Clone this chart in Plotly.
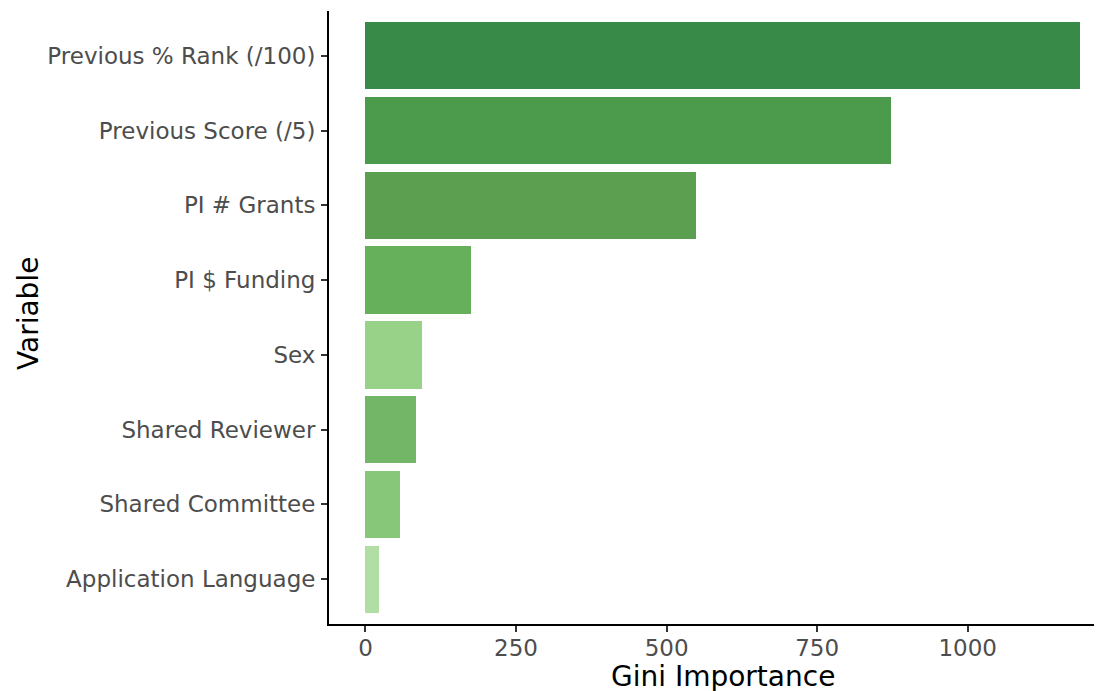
import plotly.graph_objects as go

variables = ["Previous % Rank (/100)", "Previous Score (/5)", "PI # Grants", "PI $ Funding",
             "Sex", "Shared Reviewer", "Shared Committee", "Application Language"]
importance = [1186, 873, 549, 176, 94, 83.5, 57.6, 23.2]
bar_colors = ["#378A48", "#4C9A4C", "#5C9F50", "#66AF5B", "#98D289", "#74B668", "#86C77A", "#B0DEA5"]
x_ticks = [0, 250, 500, 750, 1000]

OFF = 8  # page body margin
W, H = 1102 - OFF, 691 - OFF
ML, MR, MT = 329 - OFF, 0, 11 - OFF
PLOT_BOTTOM = 624 - OFF
MB = H - PLOT_BOTTOM

fig = go.Figure(go.Bar(
    x=importance, y=variables, orientation="h",
    marker=dict(color=bar_colors, line=dict(width=0)),
    width=0.9,
))

fig.update_layout(
    width=W, height=H,
    margin=dict(l=ML, r=MR, t=MT, b=MB),
    plot_bgcolor="white", paper_bgcolor="white",
    font=dict(family="DejaVu Sans", color="#4D4D4D", size=23),
    showlegend=False,
    bargap=0,
)
fig.update_xaxes(
    range=[-60.6, 1223], tickvals=x_ticks, ticktext=[str(v) for v in x_ticks],
    showgrid=False, zeroline=False, showline=True, linecolor="black", linewidth=2,
    ticks="outside", ticklen=6, tickwidth=2, tickcolor="#333333",
    tickfont=dict(size=23, color="#4D4D4D"), ticklabelstandoff=-4,
)
fig.update_yaxes(
    range=[len(variables) - 0.4, -0.6], categoryorder="array", categoryarray=variables,
    showgrid=False, zeroline=False, showline=True, linecolor="black", linewidth=2,
    ticks="outside", ticklen=6, tickwidth=2, tickcolor="#333333",
    tickfont=dict(size=23, color="#4D4D4D"), ticklabelstandoff=1,
)

pw = W - ML - MR
ph = PLOT_BOTTOM - MT
fig.add_annotation(text="Gini Importance", xref="paper", yref="paper",
                   x=(722.5 - OFF - ML) / pw, y=0, yshift=-52, xanchor="center", yanchor="middle",
                   showarrow=False, font=dict(size=28, color="black", family="DejaVu Sans"))
fig.add_annotation(text="Variable", xref="paper", yref="paper", textangle=-90,
                   x=0, xshift=(28 - OFF) - ML, y=(PLOT_BOTTOM - (314 - OFF)) / ph,
                   xanchor="center", yanchor="middle",
                   showarrow=False, font=dict(size=28, color="black", family="DejaVu Sans"))

fig.write_html("out.html")
